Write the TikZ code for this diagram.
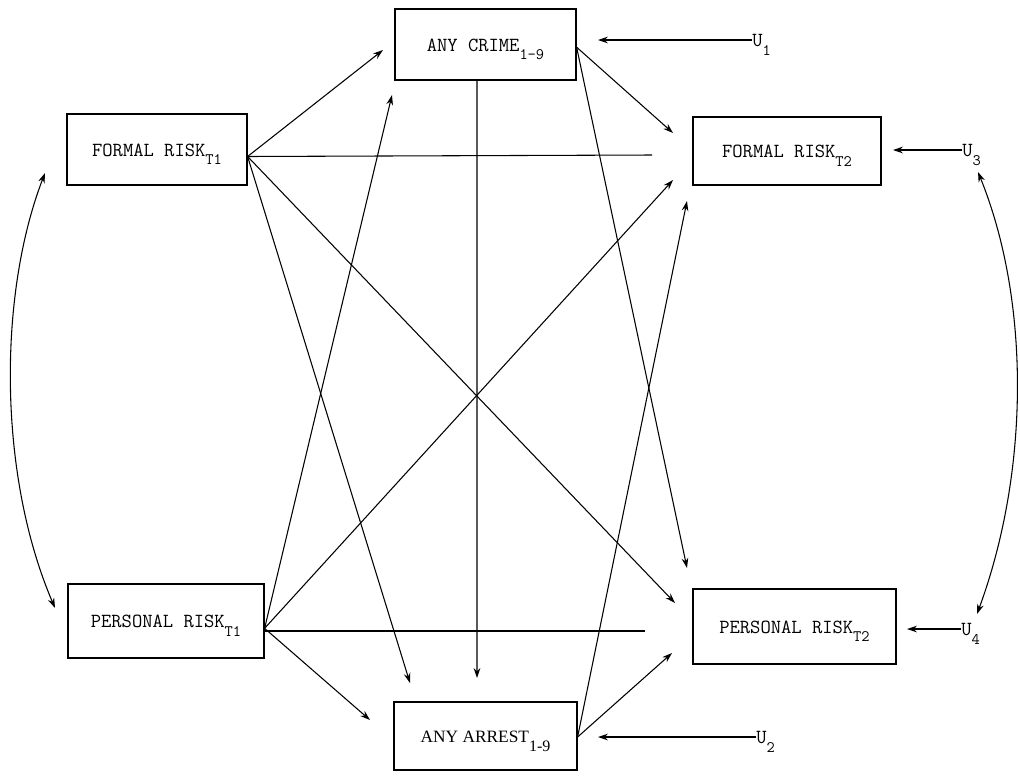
\documentclass[tikz,border=0pt]{standalone}
\usepackage{fontspec}
\setmainfont{Liberation Serif}
\usetikzlibrary{arrows.meta}
% lowered index, set a little smaller than the label text
\newcommand\lo[1]{\smash{\raisebox{-6.5pt}{\fontsize{12}{12}\selectfont #1}}}

\begin{document}
\begin{tikzpicture}[x=0.75pt,y=-0.75pt,
  box/.style={draw, line width=0.9pt, inner sep=0pt, text height=10pt, text depth=0pt,
              font=\ttfamily\fontsize{15}{15}\selectfont},
  sbox/.style={box, font=\rmfamily\fontsize{13}{13}\selectfont},
  link/.style={line width=0.8pt, -{Stealth[length=7.5pt,width=5pt]}},
  plain/.style={line width=0.8pt},
  both/.style={line width=0.8pt, {Stealth[length=7.5pt,width=5pt]}-{Stealth[length=7.5pt,width=5pt]}},
  ulab/.style={anchor=west, inner sep=0pt, text height=10pt, text depth=0pt,
               font=\ttfamily\fontsize{15}{15}\selectfont}]
\useasboundingbox (0,0) rectangle (1020,775);

% variables
\node[box, minimum width=135.75pt, minimum height=53.25pt] (crime)  at (485.5,44.5) {ANY CRIME\lo{1-9}};
\node[box, minimum width=135pt,    minimum height=53.25pt] (ft1)    at (157,149.5)  {FORMAL RISK\lo{T1}};
\node[box, minimum width=141pt,    minimum height=51pt]    (ft2)    at (787,151)    {FORMAL RISK\lo{T2}};
\node[box, minimum width=147pt,    minimum height=55.5pt]  (pt1)    at (166,621)    {PERSONAL RISK\lo{T1}};
\node[box, minimum width=152.25pt, minimum height=56.25pt] (pt2)    at (794.5,626.5){PERSONAL RISK\lo{T2}};
\node[sbox,minimum width=137.25pt, minimum height=51pt]    (arrest) at (485.5,736)  {ANY ARREST\lo{1-9}};

% disturbance terms
\node[ulab] (u1) at (752,40)  {U\lo{1}};
\node[ulab] (u3) at (962,150) {U\lo{3}};
\node[ulab] (u4) at (961,629) {U\lo{4}};
\node[ulab] (u2) at (756,737) {U\lo{2}};

% ports where the paths leave the boxes
\coordinate (ft1o)    at ([yshift=-5.25pt]ft1.east);
\coordinate (pt1o)    at ([yshift=-5.5pt]pt1.east);
\coordinate (crimeo)  at ([yshift=-2pt]crime.east);
\coordinate (crimeb)  at ([xshift=-6.4pt]crime.south);
\coordinate (arresto) at ([yshift=-0.75pt]arrest.east);

% arrow tips
\coordinate (crime-a) at (383,50);
\coordinate (crime-b) at (392,95);
\coordinate (ft2-a)   at (673,133);
\coordinate (ft2-b)   at (673,180);
\coordinate (ft2-c)   at (687,201);
\coordinate (ft2-h)   at (652,155);
\coordinate (pt2-a)   at (687,568);
\coordinate (pt2-b)   at (675,603);
\coordinate (pt2-c)   at (672,653);
\coordinate (pt2-h)   at (645,631);
\coordinate (arr-a)   at (370,720);
\coordinate (arr-b)   at (410,683);
\coordinate (arr-c)   at (477,678);
\coordinate (crime-u) at (598,40);
\coordinate (ft2-u)   at (893,150);
\coordinate (pt2-u)   at (907,629);
\coordinate (arr-u)   at (598,737);
\coordinate (ft1-c)   at (45,173);
\coordinate (pt1-c)   at (55,608);
\coordinate (u3-c)    at (978,172);
\coordinate (u4-c)    at (977,614);

% paths from FORMAL RISK T1
\draw[link]  (ft1o) -- (crime-a);
\draw[plain] (ft1o) -- (ft2-h);
\draw[link]  (ft1o) -- (pt2-b);
\draw[link]  (ft1o) -- (arr-b);

% paths from PERSONAL RISK T1
\draw[link]  (pt1o) -- (crime-b);
\draw[link]  (pt1o) -- (ft2-b);
\draw[plain] ([yshift=-2pt]pt1o) -- (pt2-h);
\draw[link]  (pt1o) -- (arr-a);

% paths from ANY CRIME
\draw[link] (crimeo) -- (ft2-a);
\draw[link] (crimeo) -- (pt2-a);
\draw[link] (crimeb) -- (arr-c);

% paths from ANY ARREST
\draw[link] (arresto) -- (ft2-c);
\draw[link] (arresto) -- (pt2-c);

% disturbances
\draw[link] (u1.west) -- (crime-u);
\draw[link] (u3.west) -- (ft2-u);
\draw[link] (u4.west) -- (pt2-u);
\draw[link] (u2.west) -- (arr-u);

% correlations
\draw[both] (ft1-c) .. controls (-2,295) and (-2,475) .. (pt1-c);
\draw[both] (u3-c) .. controls (1030,300) and (1030,470) .. (u4-c);
\end{tikzpicture}
\end{document}
